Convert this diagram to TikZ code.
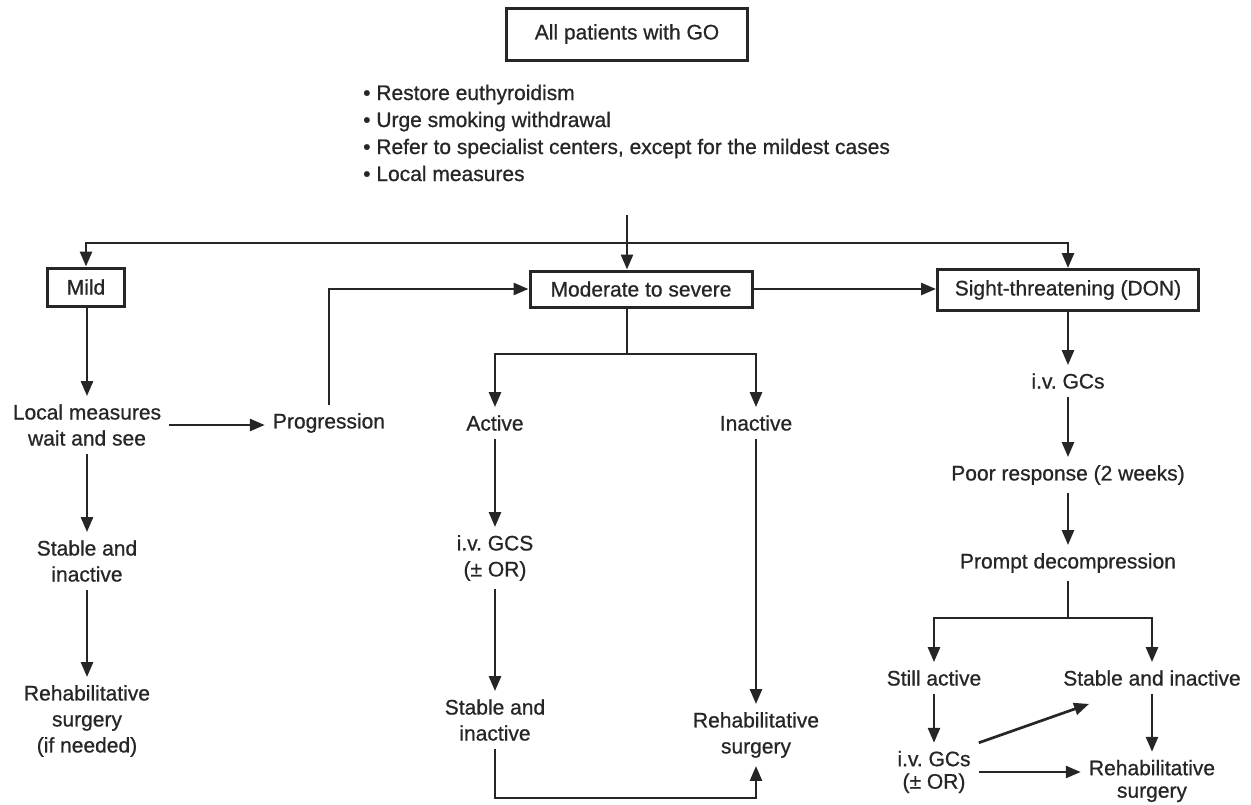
\documentclass[tikz,border=0pt]{standalone}
\usepackage{fontspec}
\setmainfont[FakeBold=0.8]{Liberation Sans}
\usetikzlibrary{arrows.meta}

\begin{document}
\begin{tikzpicture}[x=1pt, y=-1pt,
    font=\fontsize{21}{26}\selectfont,
    every node/.style={text=black!85},
    box/.style={draw=black!85, line width=3pt, minimum height=38pt, inner sep=0pt},
    txt/.style={align=center, inner sep=8pt},
    tight/.style={txt, font=\fontsize{21}{22.5}\selectfont},
    ln/.style={draw=black!85, line width=2.7pt},
    arr/.style={ln, -{Triangle[length=15pt,width=12pt]}}]
    \useasboundingbox (0,0) rectangle (1251,804);
    % top
    \node[box, minimum width=241pt, minimum height=52pt] (allpat) at (627,34) {All patients with GO};
    \node[align=left, anchor=west, inner sep=0pt, font=\fontsize{21}{27}\selectfont] (measures) at (363,133)
        {\textbullet\ Restore euthyroidism\\ \textbullet\ Urge smoking withdrawal\\
         \textbullet\ Refer to specialist centers, except for the mildest cases\\ \textbullet\ Local measures};
    % grades
    \node[box, minimum width=77pt] (mild) at (86,287) {Mild};
    \node[box, minimum width=222pt, minimum height=36pt] (mod) at (641,289) {Moderate to severe};
    \node[box, minimum width=261pt, minimum height=41pt] (sight) at (1068,290) {Sight-threatening (DON)};
    \coordinate (trunk) at (627,215);
    \coordinate (fork) at (627,243);
    \draw[ln] (trunk) -- (fork);
    \draw[arr] (fork) -| (mild);
    \draw[arr] (fork) -- (fork |- mod.north);
    \draw[arr] (fork) -| (sight);
    \draw[arr] (mod) -- (mod -| sight.west);
    % mild
    \node[txt] (lm) at (87,425) {Local measures\\wait and see};
    \node[txt] (prog) at (329,423) {Progression};
    \node[txt] (stab1) at (87,561) {Stable and\\inactive};
    \node[txt] (reh1) at (87,721) {Rehabilitative\\surgery\\(if needed)};
    \draw[arr] (mild.south -| lm) -- (lm);
    \draw[arr] (lm.east) -- (lm.east -| prog.west);
    \draw[arr] (prog) |- (mod);
    \draw[arr] (lm) -- (stab1);
    \draw[arr] (stab1) -- (reh1);
    % moderate to severe
    \coordinate (modfork) at (627,354);
    \node[txt] (act) at (495,423) {Active};
    \node[txt] (inact) at (756,423) {Inactive};
    \node[txt] (iv1) at (495,558) {i.v.\ GCS\\(± OR)};
    \node[txt] (stab2) at (495,720) {Stable and\\inactive};
    \node[txt] (reh2) at (756,735) {Rehabilitative\\surgery};
    \coordinate (loop) at (495,798);
    \draw[ln] (mod.south -| modfork) -- (modfork);
    \draw[arr] (modfork) -| (act);
    \draw[arr] (modfork) -| (inact);
    \draw[arr] (act) -- (iv1);
    \draw[arr] (iv1) -- (stab2);
    \draw[arr] (inact) -- (reh2);
    \draw[arr] (stab2) -- (loop) -| (reh2);
    % sight-threatening
    \node[txt] (iv2) at (1068,381) {i.v.\ GCs};
    \node[txt] (poor) at (1068,475) {Poor response (2 weeks)};
    \node[txt] (prompt) at (1068,563) {Prompt decompression};
    \coordinate (sfork) at (1068,618);
    \node[txt] (still) at (934,678) {Still active};
    \node[txt] (stab3) at (1152,678) {Stable and inactive};
    \node[tight] (iv3) at (934,772) {i.v.\ GCs\\(± OR)};
    \node[tight] (reh3) at (1152,781) {Rehabilitative\\surgery};
    \draw[arr] (sight) -- (iv2);
    \draw[arr] (iv2) -- (poor);
    \draw[arr] (poor) -- (prompt);
    \draw[ln] (prompt) -- (sfork);
    \draw[arr] (sfork) -| (still);
    \draw[arr] (sfork) -| (stab3);
    \draw[arr] (still) -- (iv3);
    \draw[arr] (iv3.north east) -- ([xshift=34pt,yshift=-10pt]stab3.south west);
    \draw[arr] (iv3.east) -- (iv3.east -| reh3.west);
    \draw[arr] (stab3) -- (reh3);
\end{tikzpicture}
\end{document}
